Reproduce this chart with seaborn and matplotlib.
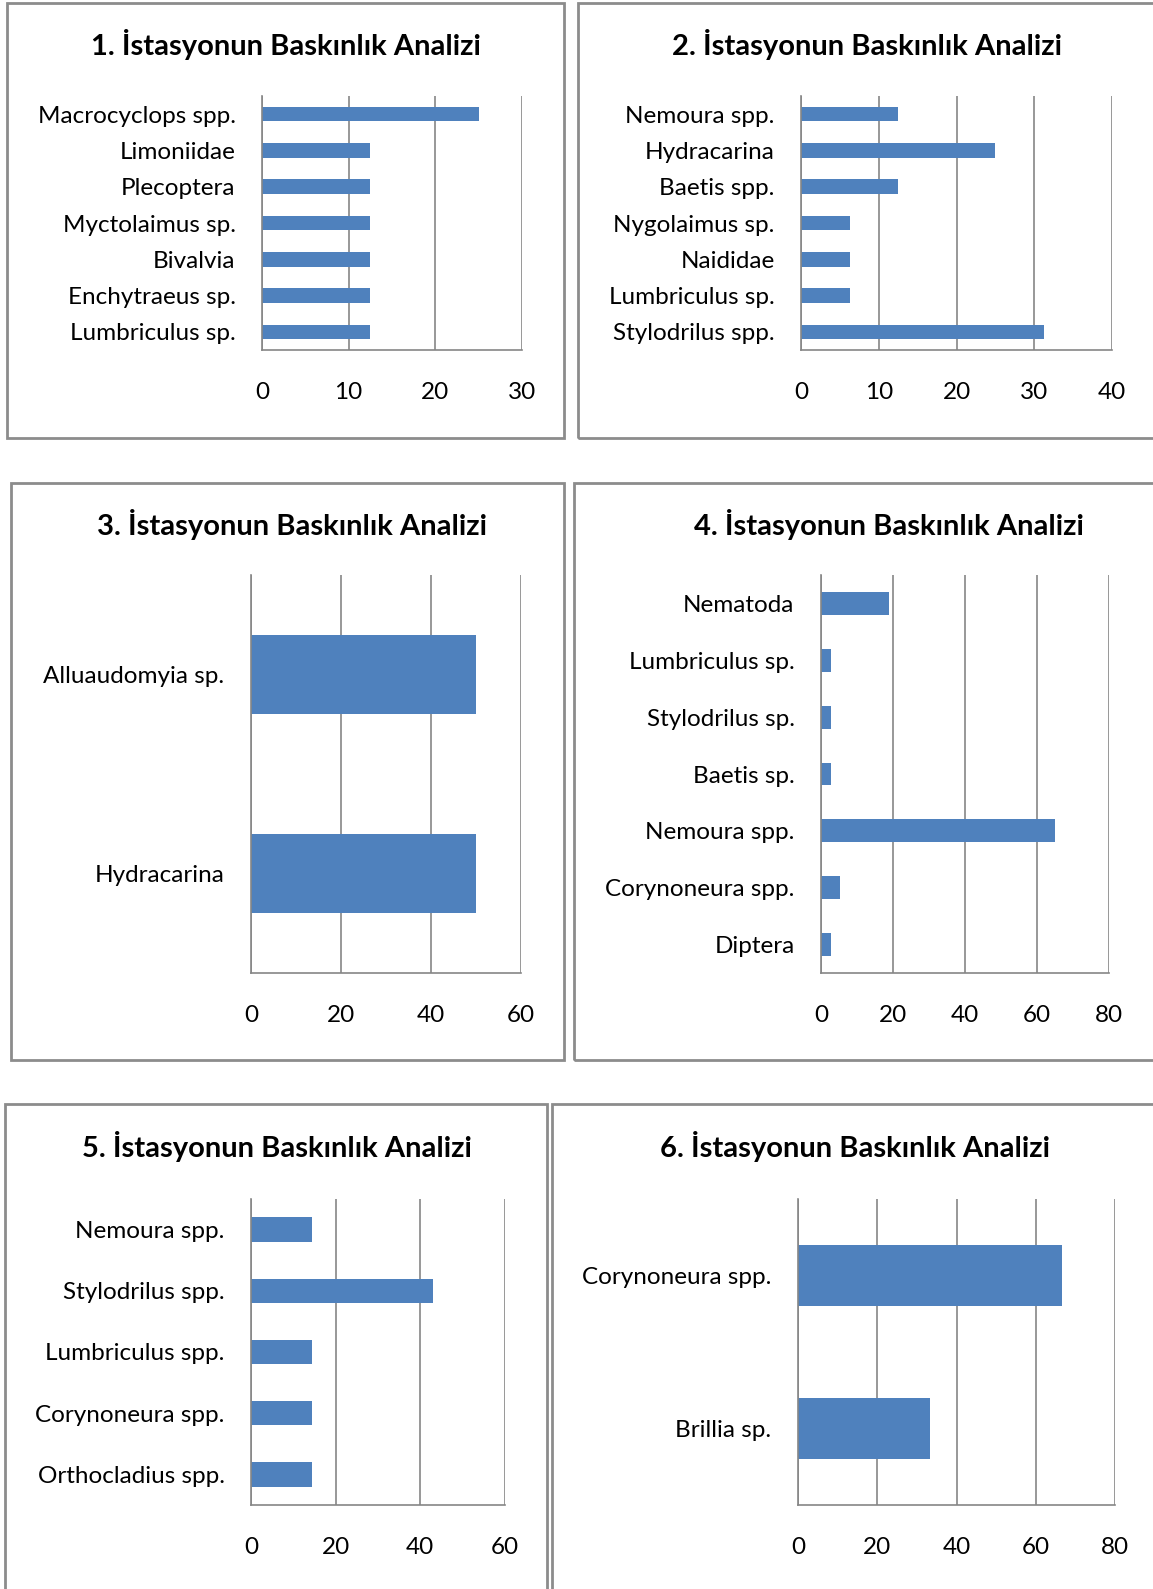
import matplotlib
matplotlib.use("Agg")
import matplotlib.pyplot as plt
import seaborn as sns
import pandas as pd
from matplotlib.patches import Rectangle

W, H = 1153, 1589
BLUE = "#4F81BD"
GRID = "#868686"
FRAME = "#8C8C8C"

plt.rcParams['font.family'] = ['Lato', 'DejaVu Sans']

TITLE = "{}. İstasyonun Baskınlık Analizi"

# station 1
st1_taxa = ["Macrocyclops spp.", "Limoniidae", "Plecoptera", "Myctolaimus sp.",
            "Bivalvia", "Enchytraeus sp.", "Lumbriculus sp."]
st1_vals = [25.0, 12.5, 12.5, 12.5, 12.5, 12.5, 12.5]

# station 2
st2_taxa = ["Nemoura spp.", "Hydracarina", "Baetis spp.", "Nygolaimus sp.",
            "Naididae", "Lumbriculus sp.", "Stylodrilus spp."]
st2_vals = [12.5, 25.0, 12.5, 6.25, 6.25, 6.25, 31.25]

# station 3
st3_taxa = ["Alluaudomyia sp.", "Hydracarina"]
st3_vals = [50.0, 50.0]

# station 4
st4_taxa = ["Nematoda", "Lumbriculus sp.", "Stylodrilus sp.", "Baetis sp.",
            "Nemoura spp.", "Corynoneura spp.", "Diptera"]
st4_vals = [18.9, 2.7, 2.7, 2.7, 64.9, 5.4, 2.7]

# station 5
st5_taxa = ["Nemoura spp.", "Stylodrilus spp.", "Lumbriculus spp.",
            "Corynoneura spp.", "Orthocladius spp."]
st5_vals = [14.3, 42.9, 14.3, 14.3, 14.3]

# station 6
st6_taxa = ["Corynoneura spp.", "Brillia sp."]
st6_vals = [66.7, 33.3]

x_max = [30, 40, 60, 80, 60, 80]
x_step = [10, 10, 20, 20, 20, 20]

# layout in pixels: frame box, axes box, title centre
frames = [(7, 3, 564, 438), (578, 3, 1170, 438),
          (11, 483, 564, 1060), (574, 483, 1170, 1060),
          (5, 1104, 547, 1610), (552, 1104, 1170, 1610)]
axboxes = [(262, 96, 522, 350), (801, 96, 1112, 350),
           (251, 575, 521, 973), (821, 575, 1109, 973),
           (251, 1199, 505, 1505), (798, 1199, 1115, 1505)]
titles = [(286, 44), (867, 44), (292, 524), (889, 524), (277, 1147), (855, 1147)]


def fig_rect(l, t, r, b):
    return [l / W, 1 - b / H, (r - l) / W, (b - t) / H]


fig = plt.figure(figsize=(W / 100, H / 100), dpi=100)

data = [(st1_taxa, st1_vals), (st2_taxa, st2_vals), (st3_taxa, st3_vals),
        (st4_taxa, st4_vals), (st5_taxa, st5_vals), (st6_taxa, st6_vals)]

for i, (taxa, vals) in enumerate(data):
    l, t, r, b = frames[i]
    fig.patches.append(Rectangle((l / W, 1 - b / H), (r - l) / W, (b - t) / H,
                                 transform=fig.transFigure, fill=False,
                                 ec=FRAME, lw=2))
    tx, ty = titles[i]
    fig.text(tx / W, 1 - ty / H, TITLE.format(i + 1), ha='center', va='center',
             fontsize=21, fontweight='bold')

    ax = fig.add_axes(fig_rect(*axboxes[i]))
    df = pd.DataFrame({'taxon': taxa, 'value': vals})
    sns.barplot(data=df, x='value', y='taxon', color=BLUE, saturation=1,
                width=0.4, linewidth=0, orient='h', ax=ax)
    ax.set_xlim(0, x_max[i])
    ax.set_xticks(range(0, x_max[i] + 1, x_step[i]))
    ax.xaxis.grid(True, color=GRID, lw=1.2)
    ax.set_axisbelow(True)
    for s in ['top', 'right']:
        ax.spines[s].set_visible(False)
    for s in ['left', 'bottom']:
        ax.spines[s].set_color(GRID)
        ax.spines[s].set_linewidth(1.2)
    ax.tick_params(axis='x', length=0, pad=23, labelsize=17.5)
    ax.tick_params(axis='y', length=0, pad=19, labelsize=17.5)
    ax.set_xlabel("")
    ax.set_ylabel("")

fig.savefig("out.png", dpi=100)
